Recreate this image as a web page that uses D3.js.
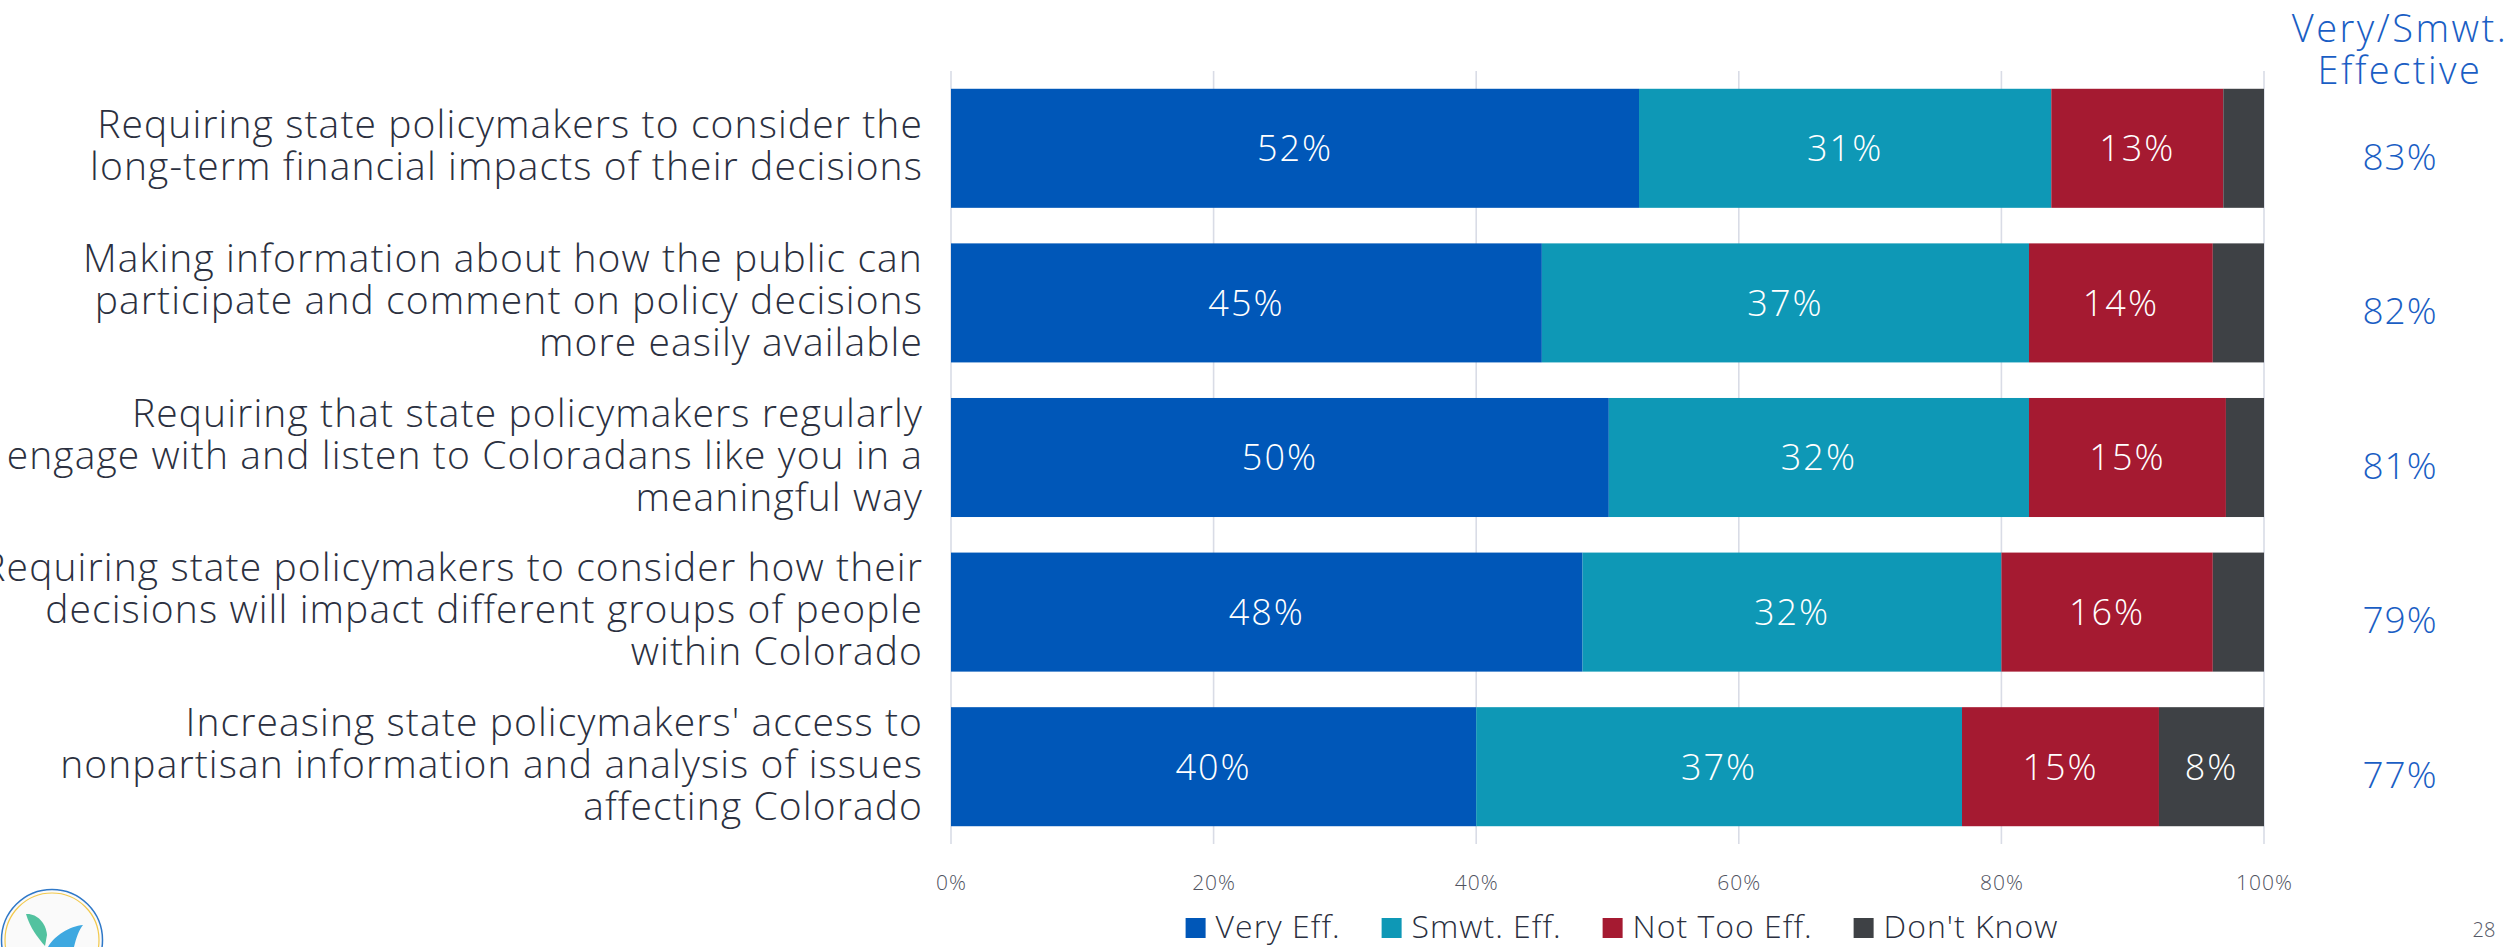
<!DOCTYPE html>
<html>
<head>
<meta charset="utf-8">
<script src="https://cdn.jsdelivr.net/npm/d3@7"></script>
<style>
  html, body { margin: 0; padding: 0; background: #ffffff; }
  svg { display: block; }
  text { font-family: "Open Sans", Inter, sans-serif; }
</style>
</head>
<body>
<svg id="chart" width="2509" height="947"></svg>
<script>
// ---- data ----
const categories = [
  "Requiring state policymakers to consider the|long-term financial impacts of their decisions",
  "Making information about how the public can|participate and comment on policy decisions|more easily available",
  "Requiring that state policymakers regularly|engage with and listen to Coloradans like you in a|meaningful way",
  "Requiring state policymakers to consider how their|decisions will impact different groups of people|within Colorado",
  "Increasing state policymakers' access to|nonpartisan information and analysis of issues|affecting Colorado"
];
const seriesNames = ["Very Eff.", "Smwt. Eff.", "Not Too Eff.", "Don't Know"];
const veryEff    = [52.4, 45.0, 50.1, 48.1, 40.0];
const smwtEff    = [31.4, 37.1, 32.0, 31.9, 37.0];
const notTooEff  = [13.1, 14.0, 15.0, 16.1, 15.0];
const dontKnow   = [3.1, 3.9, 2.9, 3.9, 8.0];
const netEffective = [83, 82, 81, 79, 77];
const tickValues = [0, 20, 40, 60, 80, 100];
const tickLabels = ["0%", "20%", "40%", "60%", "80%", "100%"];
const netHeader = ["Very/Smwt.", "Effective"];
const pageNumber = "28";

// ---- styles ----
const colors = ["#0057b8", "#0e98b6", "#a51a31", "#3e4145"];
const textDark = "#2b3040";
const netBlue = "#1a5ec4";
const FW = 300;

const svg = d3.select("#chart");

const x = d3.scaleLinear().domain([0, 100]).range([951, 2264]);
const y = d3.scaleBand().domain(categories).range([71, 844]).paddingInner(0.23).paddingOuter(0.115);
const color = d3.scaleOrdinal().domain(seriesNames).range(colors);

const rows = categories.map((c, i) => ({
  cat: c,
  "Very Eff.": veryEff[i],
  "Smwt. Eff.": smwtEff[i],
  "Not Too Eff.": notTooEff[i],
  "Don't Know": dontKnow[i]
}));
const stacked = d3.stack().keys(seriesNames)(rows);

// gridlines
svg.append("g").selectAll("line").data(tickValues).join("line")
  .attr("x1", d => x(d)).attr("x2", d => x(d))
  .attr("y1", y.range()[0]).attr("y2", y.range()[1])
  .attr("stroke", "#d9dce6").attr("stroke-width", 1.6);

// bars
const layer = svg.append("g").selectAll("g").data(stacked).join("g")
  .attr("fill", d => color(d.key));
layer.selectAll("rect").data(d => d).join("rect")
  .attr("x", d => x(d[0]))
  .attr("y", d => y(d.data.cat))
  .attr("width", d => x(d[1]) - x(d[0]))
  .attr("height", y.bandwidth());

// segment labels
const labelG = svg.append("g");
stacked.forEach(s => {
  s.forEach(d => {
    const v = d[1] - d[0];
    if (v < 5) return;
    labelG.append("text")
      .attr("x", (x(d[0]) + x(d[1])) / 2)
      .attr("y", y(d.data.cat) + y.bandwidth() / 2)
      .attr("dy", "0.36em")
      .attr("text-anchor", "middle")
      .attr("fill", "#ffffff")
      .attr("font-size", 36)
      .attr("letter-spacing", 2)
      .attr("font-weight", FW)
      .text(Math.round(v) + "%");
  });
});

// category labels (one text per line)
const lineH = 42;
const catG = svg.append("g");
categories.forEach(c => {
  const lines = c.split("|");
  const cy = y(c) + y.bandwidth() / 2;
  lines.forEach((ln, i) => {
    catG.append("text")
      .attr("x", 923)
      .attr("y", cy + (i - (lines.length - 1) / 2) * lineH + 11)
      .attr("text-anchor", "end")
      .attr("fill", textDark)
      .attr("font-size", 39)
      .attr("letter-spacing", 1.1)
      .attr("font-weight", FW)
      .text(ln);
  });
});

// x axis
const axis = d3.axisBottom(x).tickValues(tickValues)
  .tickFormat((d, i) => tickLabels[i]).tickSize(0).tickPadding(31);
const axG = svg.append("g").attr("transform", `translate(0,${y.range()[1]})`).call(axis);
axG.select(".domain").remove();
axG.selectAll("text").attr("font-size", 21).attr("fill", "#50535f")
  .attr("font-family", "'Open Sans', sans-serif").attr("font-weight", FW)
  .attr("letter-spacing", 1);

// net column
const netX = 2400;
svg.append("g").selectAll("text").data(netHeader).join("text")
  .attr("x", netX).attr("y", (d, i) => 42 + i * 42)
  .attr("text-anchor", "middle").attr("fill", netBlue)
  .attr("font-size", 38).attr("letter-spacing", 2.5).attr("font-weight", FW)
  .text(d => d);
svg.append("g").selectAll("text").data(netEffective).join("text")
  .attr("x", netX)
  .attr("y", (d, i) => y(categories[i]) + y.bandwidth() / 2 + 8)
  .attr("dy", "0.36em")
  .attr("text-anchor", "middle")
  .attr("fill", netBlue)
  .attr("font-size", 37)
  .attr("letter-spacing", 1)
  .attr("font-weight", FW)
  .text(d => d + "%");

// legend
const legG = svg.append("g");
const items = [];
seriesNames.forEach((n, i) => {
  const g = legG.append("g");
  g.append("rect").attr("x", 0).attr("y", -8).attr("width", 20).attr("height", 20).attr("fill", colors[i]);
  const t = g.append("text").attr("x", 30).attr("dy", "0.36em").attr("fill", textDark)
    .attr("font-size", 32).attr("letter-spacing", 1).attr("font-weight", FW).text(n);
  const w = 30 + t.node().getComputedTextLength();
  items.push({ g, w });
});
const gap = 41;
const totalW = d3.sum(items, d => d.w) + gap * (items.length - 1);
let cx = 1622 - totalW / 2;
items.forEach(it => {
  it.g.attr("transform", `translate(${cx},926)`);
  cx += it.w + gap;
});

// page number
svg.append("text").attr("x", 2484).attr("y", 930).attr("dy", "0.36em")
  .attr("text-anchor", "middle").attr("fill", "#555866").attr("font-size", 20)
  .attr("font-weight", FW).text(pageNumber);

// logo
const logo = svg.append("g");
logo.append("circle").attr("cx", 52).attr("cy", 940).attr("r", 50.5)
  .attr("fill", "#fafafa").attr("stroke", "#2f78c8").attr("stroke-width", 1.5);
logo.append("circle").attr("cx", 52).attr("cy", 940).attr("r", 47)
  .attr("fill", "none").attr("stroke", "#f2c94c").attr("stroke-width", 1.2);
logo.append("path").attr("d", "M26,914 C36,913 46,922 47,935 L45,946 C38,938 30,928 26,914 Z")
  .attr("fill", "#52c29f");
logo.append("path").attr("d", "M83,925 C70,926 54,936 48,947 L74,947 C76,938 79,930 83,925 Z")
  .attr("fill", "#3ea8e0");
</script>
</body>
</html>
